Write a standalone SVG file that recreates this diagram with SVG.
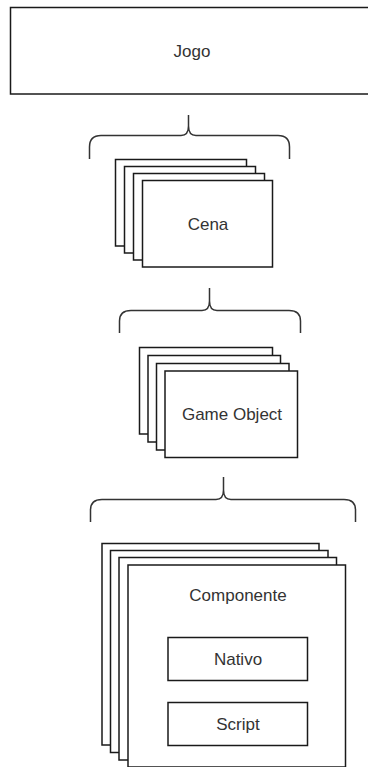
<svg xmlns="http://www.w3.org/2000/svg" width="368" height="767" viewBox="0 0 368 767">
  <style>
    .box { fill: #ffffff; stroke: #1a1a1a; stroke-width: 1.5; }
    .brace { fill: none; stroke: #333333; stroke-width: 1.5; }
    .lbl { font-family: "Liberation Sans", Arial, sans-serif; font-size: 17px; fill: #333333; text-anchor: middle; }
  </style>
  <rect width="368" height="767" fill="#ffffff"/>

  <!-- hierarchy braces -->
  <g id="connectors">
    <path class="brace" d="M89.5,159 V147 Q89.5,135.5 101,135.5 H181 Q188.5,135.5 188.5,126 V115 M188.5,126 Q188.5,135.5 196,135.5 H278 Q289.5,135.5 289.5,147 V159"/>
    <path class="brace" d="M119.5,333 V321 Q119.5,310.5 131,310.5 H202 Q209.5,310.5 209.5,301 V288 M209.5,301 Q209.5,310.5 217,310.5 H289 Q300.5,310.5 300.5,321 V333"/>
    <path class="brace" d="M90.5,522 V510 Q90.5,499.5 102,499.5 H216 Q223.5,499.5 223.5,490 V477 M223.5,490 Q223.5,499.5 231,499.5 H344 Q355.5,499.5 355.5,510 V522"/>
  </g>

  <g id="jogo">
    <rect class="box" x="10.5" y="7.5" width="362" height="86.5"/>
    <text class="lbl" x="192" y="57">Jogo</text>
  </g>

  <g id="cena">
    <rect class="box" x="115.5" y="159.5" width="131" height="86.5"/>
    <rect class="box" x="124.5" y="166.5" width="131" height="86.5"/>
    <rect class="box" x="133.5" y="173.5" width="131" height="86.5"/>
    <rect class="box" x="142.5" y="180.5" width="130" height="86.5"/>
    <text class="lbl" x="208" y="230">Cena</text>
  </g>

  <g id="game-object">
    <rect class="box" x="139.5" y="347.5" width="133" height="86.5"/>
    <rect class="box" x="148" y="355.5" width="132.5" height="86.5"/>
    <rect class="box" x="156.5" y="363.5" width="132.5" height="86.5"/>
    <rect class="box" x="165" y="371" width="132.5" height="86.5"/>
    <text class="lbl" x="232" y="420">Game Object</text>
  </g>

  <g id="componente">
    <rect class="box" x="102" y="543.5" width="217" height="201.5"/>
    <rect class="box" x="110.5" y="550.5" width="217.5" height="202"/>
    <rect class="box" x="119" y="557.5" width="217.5" height="202.5"/>
    <rect class="box" x="128" y="565" width="217.5" height="202"/>
    <text class="lbl" x="238" y="601">Componente</text>
  </g>

  <g id="nativo">
    <rect class="box" x="168" y="637.5" width="139.5" height="43"/>
    <text class="lbl" x="238" y="665">Nativo</text>
  </g>

  <g id="script">
    <rect class="box" x="168" y="702.5" width="139.5" height="43"/>
    <text class="lbl" x="238" y="730">Script</text>
  </g>
</svg>
